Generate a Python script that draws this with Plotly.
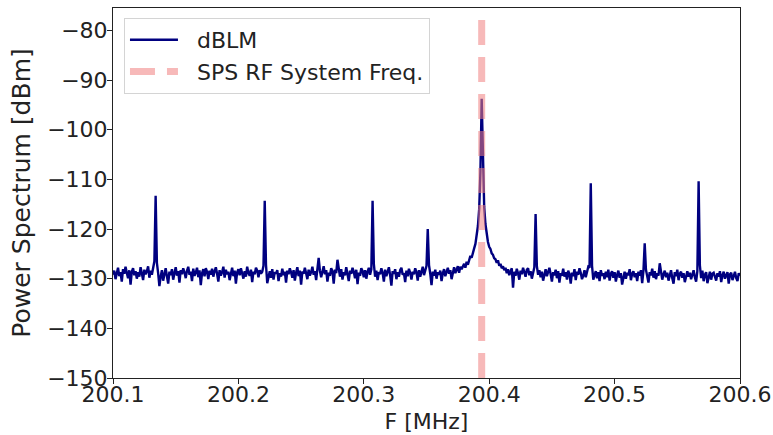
import numpy as np
import plotly.graph_objects as go

# ---- data ----
F_START_MHZ = 200.1
F_STEP_MHZ = 0.001
power_dbm = [
    -129.2, -128.4, -130.1, -128.9, -127.8, -129.5, -128.7, -130.6, -128.1, -129.0, -127.6, -128.8, -129.9, -128.3, -131.2, -128.6, -127.9, -129.3, -128.5, -130.0,
    -128.7, -129.6, -127.7, -128.9, -130.3, -128.2, -129.1, -128.5, -127.5, -129.8, -128.4, -129.2, -128.0, -126.5, -113.3, -126.8, -128.9, -131.5, -129.6, -128.3,
    -130.4, -128.8, -127.9, -129.5, -131.0, -128.6, -129.3, -128.1, -130.2, -128.9, -127.7, -129.4, -128.5, -130.8, -128.3, -129.1, -127.9, -128.7, -129.9, -128.4,
    -127.6, -129.2, -128.6, -130.5, -128.0, -129.4, -128.8, -127.8, -129.7, -128.3, -131.3, -128.9, -128.1, -129.5, -127.9, -128.6, -130.1, -128.4, -129.2, -128.0,
    -129.6, -128.5, -127.7, -129.0, -130.6, -128.3, -129.4, -128.7, -127.6, -129.8, -128.2, -129.1, -128.6, -130.3, -128.9, -127.8, -129.5, -128.4, -131.0, -128.7,
    -128.1, -129.3, -127.9, -128.8, -130.0, -128.5, -129.6, -127.6, -128.9, -129.4, -128.2, -130.7, -128.6, -129.1, -127.8, -128.4, -129.7, -128.3, -129.0, -128.6,
    -127.4, -114.3, -127.2, -130.9, -129.3, -128.5, -129.8, -128.1, -130.2, -128.7, -129.0, -128.3, -130.5, -128.9, -129.6, -128.0, -129.3, -128.6, -130.8, -128.4,
    -129.1, -127.9, -128.7, -129.8, -128.3, -130.4, -128.8, -127.7, -129.5, -128.4, -131.2, -128.6, -129.0, -127.8, -128.9, -130.1, -128.2, -129.4, -128.7, -127.6,
    -129.2, -128.5, -130.3, -128.0, -125.8, -128.4, -129.7, -128.6, -127.5, -129.1, -128.3, -130.6, -128.8, -129.4, -127.9, -128.5, -131.0, -128.2, -128.9, -126.2,
    -128.4, -129.6, -128.1, -130.2, -128.7, -129.3, -127.7, -128.9, -130.5, -128.4, -129.0, -127.8, -128.6, -129.9, -128.2, -131.1, -128.8, -129.4, -127.9, -128.5,
    -129.7, -128.3, -130.0, -128.6, -127.8, -129.2, -128.1, -114.3, -127.0, -129.6, -128.4, -130.3, -128.7, -129.1, -127.9, -128.8, -130.6, -128.2, -129.5, -128.6,
    -127.7, -129.3, -131.4, -128.5, -129.0, -128.1, -130.1, -128.7, -129.6, -128.3, -127.8, -129.2, -128.9, -130.7, -128.4, -129.5, -128.0, -128.8, -130.2, -128.6,
    -129.1, -127.9, -128.7, -130.4, -128.3, -129.6, -128.8, -127.6, -129.3, -128.5, -127.4, -120.0, -127.3, -129.0, -131.3, -128.6, -129.4, -128.2, -130.0, -128.7,
    -129.2, -128.4, -130.5, -128.9, -128.1, -129.5, -128.6, -127.8, -129.0, -128.3, -130.1, -128.5, -127.7, -128.9, -128.2, -127.5, -128.8, -127.6, -128.1, -127.3,
    -127.0, -127.8, -126.6, -127.2, -126.0, -125.4, -125.8, -124.6, -123.9, -123.0, -121.6, -119.4, -116.0, -108.5, -93.8, -108.0, -115.5, -119.0, -121.2, -122.6,
    -123.6, -124.0, -124.9, -125.2, -125.9, -126.1, -126.8, -126.3, -127.4, -127.0, -127.9, -127.5, -128.3, -127.8, -128.9, -128.1, -129.3, -128.4, -127.9, -131.8,
    -128.6, -129.4, -128.0, -128.9, -130.2, -128.4, -129.1, -127.8, -128.7, -129.6, -128.2, -127.9, -129.3, -128.5, -130.0, -128.8, -127.7, -117.0, -127.5, -129.2,
    -128.3, -129.7, -128.6, -130.4, -128.9, -128.1, -129.5, -128.4, -127.8, -129.1, -130.6, -128.7, -129.3, -128.2, -129.9, -128.5, -130.8, -128.9, -129.4, -128.0,
    -129.6, -128.7, -130.2, -128.4, -129.1, -131.0, -128.8, -129.5, -128.1, -130.3, -128.6, -129.2, -127.9, -128.8, -130.1, -129.4, -128.3, -129.7, -128.9, -127.6,
    -127.8, -110.8, -127.4, -130.2, -129.3, -128.5, -129.9, -128.7, -130.5, -128.3, -129.4, -128.9, -130.1, -128.6, -129.7, -128.2, -130.4, -129.0, -128.5, -129.8,
    -128.7, -130.6, -129.2, -128.4, -129.8, -128.9, -131.2, -129.5, -128.6, -130.0, -128.8, -129.3, -128.1, -130.3, -129.0, -128.5, -129.7, -128.9, -130.5, -128.6,
    -129.4, -128.3, -130.9, -128.4, -122.9, -128.2, -129.6, -130.8, -128.7, -129.3, -128.0, -129.8, -128.5, -130.1, -128.9, -129.4, -126.9, -128.6, -130.2, -129.1,
    -128.4, -129.7, -128.8, -130.4, -129.2, -128.3, -129.9, -131.0, -128.7, -129.5, -128.2, -130.3, -129.0, -128.6, -129.8, -128.9, -130.7, -129.3, -128.5, -129.6,
    -128.8, -130.1, -129.4, -128.3, -129.7, -130.6, -128.5, -110.4, -127.3, -129.9, -128.4, -130.5, -129.2, -128.7, -130.9, -129.5, -128.6, -130.2, -129.0, -128.8,
    -129.8, -130.4, -128.9, -129.6, -128.5, -130.7, -129.3, -128.6, -130.0, -129.4, -128.7, -131.0, -129.1, -128.8, -130.3, -129.5, -128.6, -129.9, -130.5, -128.9,
    -129.4,
]
freq_mhz = np.round(F_START_MHZ + F_STEP_MHZ * np.arange(len(power_dbm)), 4)

RF_FREQ_MHZ = 200.394
X_RANGE = [200.1, 200.6]
Y_RANGE = [-150, -75.5]
x_tick_vals = [200.1, 200.2, 200.3, 200.4, 200.5, 200.6]
x_tick_text = ["200.1", "200.2", "200.3", "200.4", "200.5", "200.6"]
y_tick_vals = [-150, -140, -130, -120, -110, -100, -90, -80]
series_names = ["dBLM", "SPS RF System Freq."]

FONT = "DejaVu Sans"
PAD = "\u00a0\u00a0"

fig = go.Figure()
fig.add_trace(go.Scatter(
    x=freq_mhz, y=power_dbm, mode="lines", name=PAD + series_names[0],
    line=dict(color="#000080", width=2.4),
))
fig.add_trace(go.Scatter(
    x=[RF_FREQ_MHZ, RF_FREQ_MHZ], y=Y_RANGE, mode="lines",
    name=PAD + series_names[1],
    line=dict(color="rgba(240,128,128,0.55)", width=7, dash="25px,12px"),
))

axis_common = dict(
    showline=True, linecolor="#222", linewidth=1, mirror=True,
    ticks="outside", ticklen=5, tickcolor="#222", tickwidth=1,
    showgrid=False, zeroline=False, automargin=False,
    tickfont=dict(family=FONT, size=22, color="#222"),
)
fig.update_xaxes(range=X_RANGE, tickvals=x_tick_vals, ticktext=x_tick_text,
                 ticklabelstandoff=-8,
                 title=dict(text="F [MHz]", font=dict(family=FONT, size=22, color="#222"), standoff=7),
                 **axis_common)
fig.update_yaxes(range=Y_RANGE, tickvals=y_tick_vals, ticklabelstandoff=-5,
                 title=dict(text="Power Spectrum [dBm]", font=dict(family=FONT, size=25, color="#222"), standoff=9),
                 **axis_common)

fig.update_layout(
    width=773, height=435,
    margin=dict(l=113, r=33, t=8, b=57),
    paper_bgcolor="white", plot_bgcolor="white",
    font=dict(family=FONT, size=22, color="#222"),
    showlegend=True,
    legend=dict(
        x=0.0175, y=0.973, xanchor="left", yanchor="top",
        bgcolor="rgba(255,255,255,0.85)", bordercolor="#d4d4d4", borderwidth=1,
        font=dict(family=FONT, size=22, color="#222"),
        itemwidth=48,
    ),
)

# remove the default page margin so the figure fills the window exactly
fig.write_html("out.html", config={"displayModeBar": False},
               post_script="document.body.style.margin='0';")
